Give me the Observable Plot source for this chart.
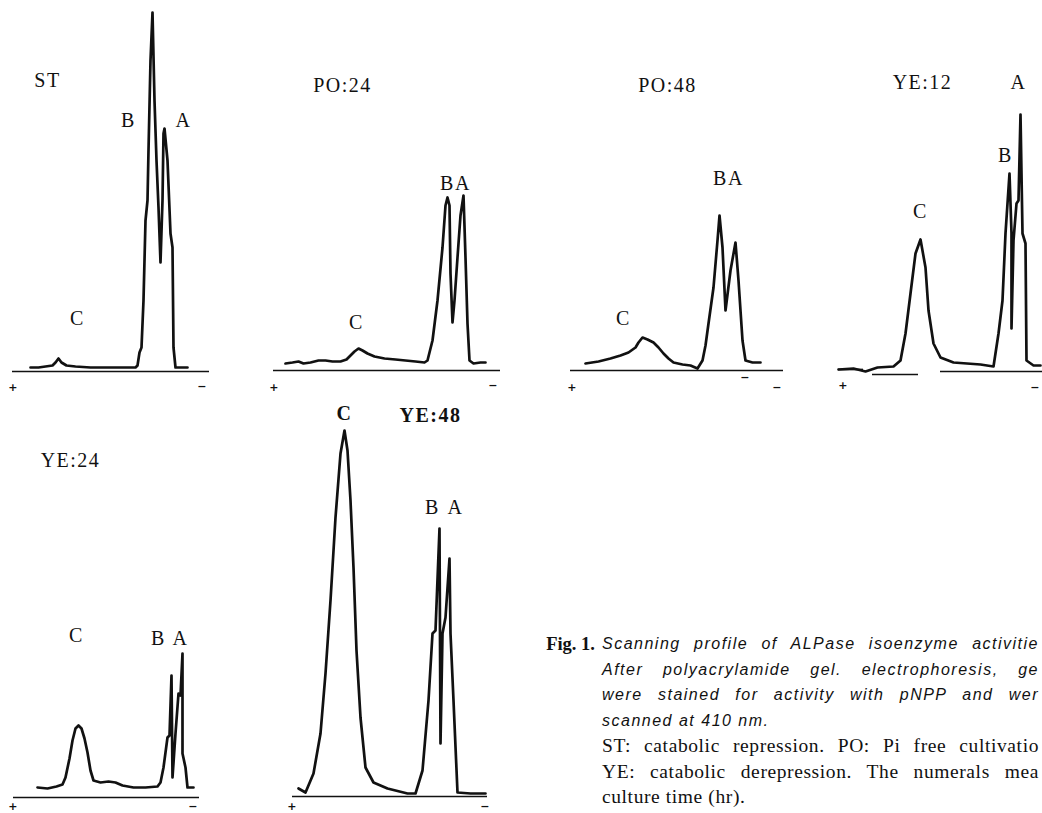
<!DOCTYPE html>
<html>
<head>
<meta charset="utf-8">
<script src="https://cdn.jsdelivr.net/npm/d3@7"></script>
<script src="https://cdn.jsdelivr.net/npm/@observablehq/plot@0.6"></script>
<style>
  html, body { margin: 0; padding: 0; background: #fff; }
  #root { position: relative; width: 1042px; height: 813px; overflow: hidden; background: #fff; }
  .panel { position: absolute; overflow: visible; }
  .panel text { letter-spacing: 1.5px; }
  #caption { position: absolute; left: 0; top: 0; width: 1042px; height: 813px; pointer-events: none; }
  .figlab { position: absolute; font-family: "Liberation Serif", serif; font-weight: bold; font-size: 18.5px; line-height: 20px; white-space: nowrap; color: #111; }
  .cline { position: absolute; left: 602px; white-space: nowrap; color: #111; line-height: 20px; }
  .it { font-family: "Liberation Sans", sans-serif; font-style: italic; font-size: 16px; letter-spacing: 1.5px; }
  .rm { font-family: "Liberation Serif", serif; font-size: 19.5px; letter-spacing: 0.6px; }
  .just { text-align: justify; text-align-last: justify; }
</style>
</head>
<body>
<div id="root"></div>
<script>
// ---------- DATA: densitometer scans [migration (from + pole), absorbance] ----------
const stTrace = [[18,4],[26,4],[33,5],[40,6],[43,9],[46,13],[49,9],[54,6],[63,5],[78,4],[93,4],[108,4],[123,4],[125,6],[127,19],[129,24],[131,71],[133,151],[135,171],[136,221],[138,311],[140,359],[142,271],[144,211],[146,164],[148,109],[150,171],[151,238],[152,243],[155,211],[158,138],[160,124],[161,24],[163,4],[175,4]];
const po24Trace = [[12,7],[19,8],[25,9],[30,7],[37,8],[45,10],[52,10],[59,9],[67,9],[73,11],[77,15],[81,19],[85,22],[89,20],[94,17],[101,14],[111,12],[122,11],[132,10],[142,9],[151,8],[154,10],[159,30],[164,70],[169,123],[172,165],[174,173],[176,165],[177,97],[179,48],[181,70],[184,113],[187,155],[190,175],[192,113],[194,47],[196,10],[200,7],[207,8],[212,8]];
const po48Trace = [[15,7],[28,9],[40,12],[50,15],[58,18],[65,23],[68,28],[72,33],[77,31],[83,28],[88,23],[93,17],[98,12],[103,8],[112,6],[120,5],[127,2],[132,10],[135,25],[138,47],[143,83],[147,130],[149,155],[152,123],[155,60],[160,100],[165,128],[168,90],[172,30],[175,10],[182,8],[190,8]];
const ye12Trace = [[-5,2],[10,3],[22,0],[34,4],[50,5],[57,11],[62,38],[67,78],[72,118],[77,132],[82,104],[85,61],[90,28],[97,14],[110,9],[137,7],[150,5],[155,38],[159,71],[162,138],[166,198],[168,138],[168,43],[170,131],[173,168],[175,171],[177,257],[179,138],[182,128],[183,11],[190,6],[197,6]];
const ye24Trace = [[24,10],[34,9],[43,11],[49,13],[52,20],[56,39],[59,57],[62,69],[65,72],[68,69],[71,59],[74,45],[77,27],[80,17],[87,15],[95,16],[102,15],[109,12],[120,10],[132,10],[144,11],[147,15],[150,30],[154,60],[156,62],[158,122],[159,20],[162,64],[165,104],[167,102],[169,144],[169,44],[172,30],[174,10],[180,10]];
const ye48Trace = [[6,8],[13,4],[21,23],[28,63],[33,123],[38,196],[43,279],[48,343],[52,366],[55,346],[58,296],[61,229],[64,146],[68,79],[73,29],[81,14],[95,8],[115,3],[123,3],[130,26],[136,96],[140,163],[143,166],[147,268],[148,53],[150,163],[153,179],[157,238],[158,163],[161,96],[165,4],[178,3],[193,3]];

// gel baselines [from, to, level]
const stBase = [[0,197,0]];
const po24Base = [[0,227,0]];
const po48Base = [[0,213,0]];
const ye12Base = [[-5,20,2],[29,75,-3],[97,199,0]];
const ye24Base = [[0,186,0]];
const ye48Base = [[0,195,0]];

// panel titles and isoenzyme band labels (anchored in data units)
const stLabels = [{t:"ST",x:35,y:291},{t:"B",x:116,y:251},{t:"A",x:171,y:251},{t:"C",x:65,y:53}];
const po24Labels = [{t:"PO:24",x:69,y:285},{t:"BA",x:182,y:187},{t:"C",x:83,y:48}];
const po48Labels = [{t:"PO:48",x:97,y:285},{t:"BA",x:158,y:192},{t:"C",x:53,y:52}];
const ye12Labels = [{t:"YE:12",x:79,y:289},{t:"A",x:175,y:289},{t:"B",x:162,y:216},{t:"C",x:77,y:160}];
const ye24Labels = [{t:"YE:24",x:57,y:337},{t:"C",x:63,y:162},{t:"B",x:145,y:159},{t:"A",x:167,y:159}];
const ye48Labels = [{t:"B",x:140,y:289},{t:"A",x:163,y:289}];
const ye48BoldLabels = [{t:"C",x:52,y:383},{t:"YE:48",x:138,y:381}];

// electrode poles
const stPoles = [{t:"+",x:1,y:-16},{t:"−",x:190,y:-15}];
const po24Poles = [{t:"+",x:1,y:-17},{t:"−",x:220,y:-15}];
const po48Poles = [{t:"+",x:2,y:-17},{t:"−",x:175,y:-7},{t:"−",x:207,y:-17}];
const ye12Poles = [{t:"+",x:0,y:-14},{t:"−",x:192,y:-16}];
const ye24Poles = [{t:"+",x:0,y:-9},{t:"−",x:180,y:-9}];
const ye48Poles = [{t:"+",x:0,y:-10},{t:"−",x:193,y:-10}];

// caption text as visible in the (right-edge cropped) reference
const captionFig = "Fig. 1.";
const captionItalic = [
  "Scanning profile of ALPase isoenzyme activitie",
  "After polyacrylamide gel. electrophoresis, ge",
  "were stained for activity with pNPP and wer",
  "scanned at 410 nm."
];
const captionRoman = [
  "ST: catabolic repression. PO: Pi free cultivatio",
  "YE: catabolic derepression. The numerals mea",
  "culture time (hr)."
];

// ---------- LAYOUT ----------
const panels = [
  {trace: stTrace, base: stBase, labels: stLabels, bold: [], poles: stPoles, f:{left:0,top:0,width:260,height:400,ox:12,oy:371}},
  {trace: po24Trace, base: po24Base, labels: po24Labels, bold: [], poles: po24Poles, f:{left:260,top:0,width:250,height:400,ox:273,oy:370}},
  {trace: po48Trace, base: po48Base, labels: po48Labels, bold: [], poles: po48Poles, f:{left:510,top:0,width:275,height:400,ox:570,oy:370}},
  {trace: ye12Trace, base: ye12Base, labels: ye12Labels, bold: [], poles: ye12Poles, f:{left:785,top:0,width:257,height:400,ox:843,oy:371}},
  {trace: ye24Trace, base: ye24Base, labels: ye24Labels, bold: [], poles: ye24Poles, f:{left:0,top:400,width:240,height:413,ox:13,oy:797}},
  {trace: ye48Trace, base: ye48Base, labels: ye48Labels, bold: ye48BoldLabels, poles: ye48Poles, f:{left:240,top:400,width:290,height:413,ox:292,oy:796}}
];

const root = document.getElementById("root");
const ink = "#111";
for (const p of panels) {
  const f = p.f;
  const chart = Plot.plot({
    width: f.width,
    height: f.height,
    margin: 0,
    x: {axis: null, domain: [f.left - f.ox, f.left + f.width - f.ox], range: [0, f.width]},
    y: {axis: null, domain: [f.oy - f.top - f.height, f.oy - f.top], range: [f.height, 0]},
    style: {background: "transparent", overflow: "visible"},
    marks: [
      Plot.ruleY(p.base, {x1: d => d[0], x2: d => d[1], y: d => d[2], stroke: ink, strokeWidth: 1.7}),
      Plot.line(p.trace, {x: d => d[0], y: d => d[1], stroke: ink, strokeWidth: 2.7, strokeLinejoin: "round", strokeLinecap: "round"}),
      Plot.text(p.labels, {x: "x", y: "y", text: "t", fontSize: 20, fontFamily: "Liberation Serif", fill: ink}),
      Plot.text(p.bold, {x: "x", y: "y", text: "t", fontSize: 20, fontWeight: "bold", fontFamily: "Liberation Serif", fill: ink}),
      Plot.text(p.poles, {x: "x", y: "y", text: "t", fontSize: 11, fontWeight: "bold", fontFamily: "DejaVu Sans", fill: ink})
    ]
  });
  chart.classList.add("panel");
  chart.style.left = f.left + "px";
  chart.style.top = f.top + "px";
  root.appendChild(chart);
}

// ---------- CAPTION ----------
const cap = document.createElement("div");
cap.id = "caption";
root.appendChild(cap);
const blockWidth = 437;
const firstCenter = 644, lineStep = 25.5;
const fig = document.createElement("div");
fig.className = "figlab";
fig.textContent = captionFig;
fig.style.right = (1042 - 595) + "px";
fig.style.top = (firstCenter - 10) + "px";
cap.appendChild(fig);
const allLines = [
  ...captionItalic.map((t, i) => ({t, cls: "it", just: i < captionItalic.length - 1})),
  ...captionRoman.map((t, i) => ({t, cls: "rm", just: i < captionRoman.length - 1}))
];
allLines.forEach((l, i) => {
  const d = document.createElement("div");
  d.className = "cline " + l.cls + (l.just ? " just" : "");
  d.textContent = l.t;
  d.style.width = blockWidth + "px";
  d.style.top = (firstCenter + i * lineStep - 10) + "px";
  cap.appendChild(d);
});
</script>
</body>
</html>
